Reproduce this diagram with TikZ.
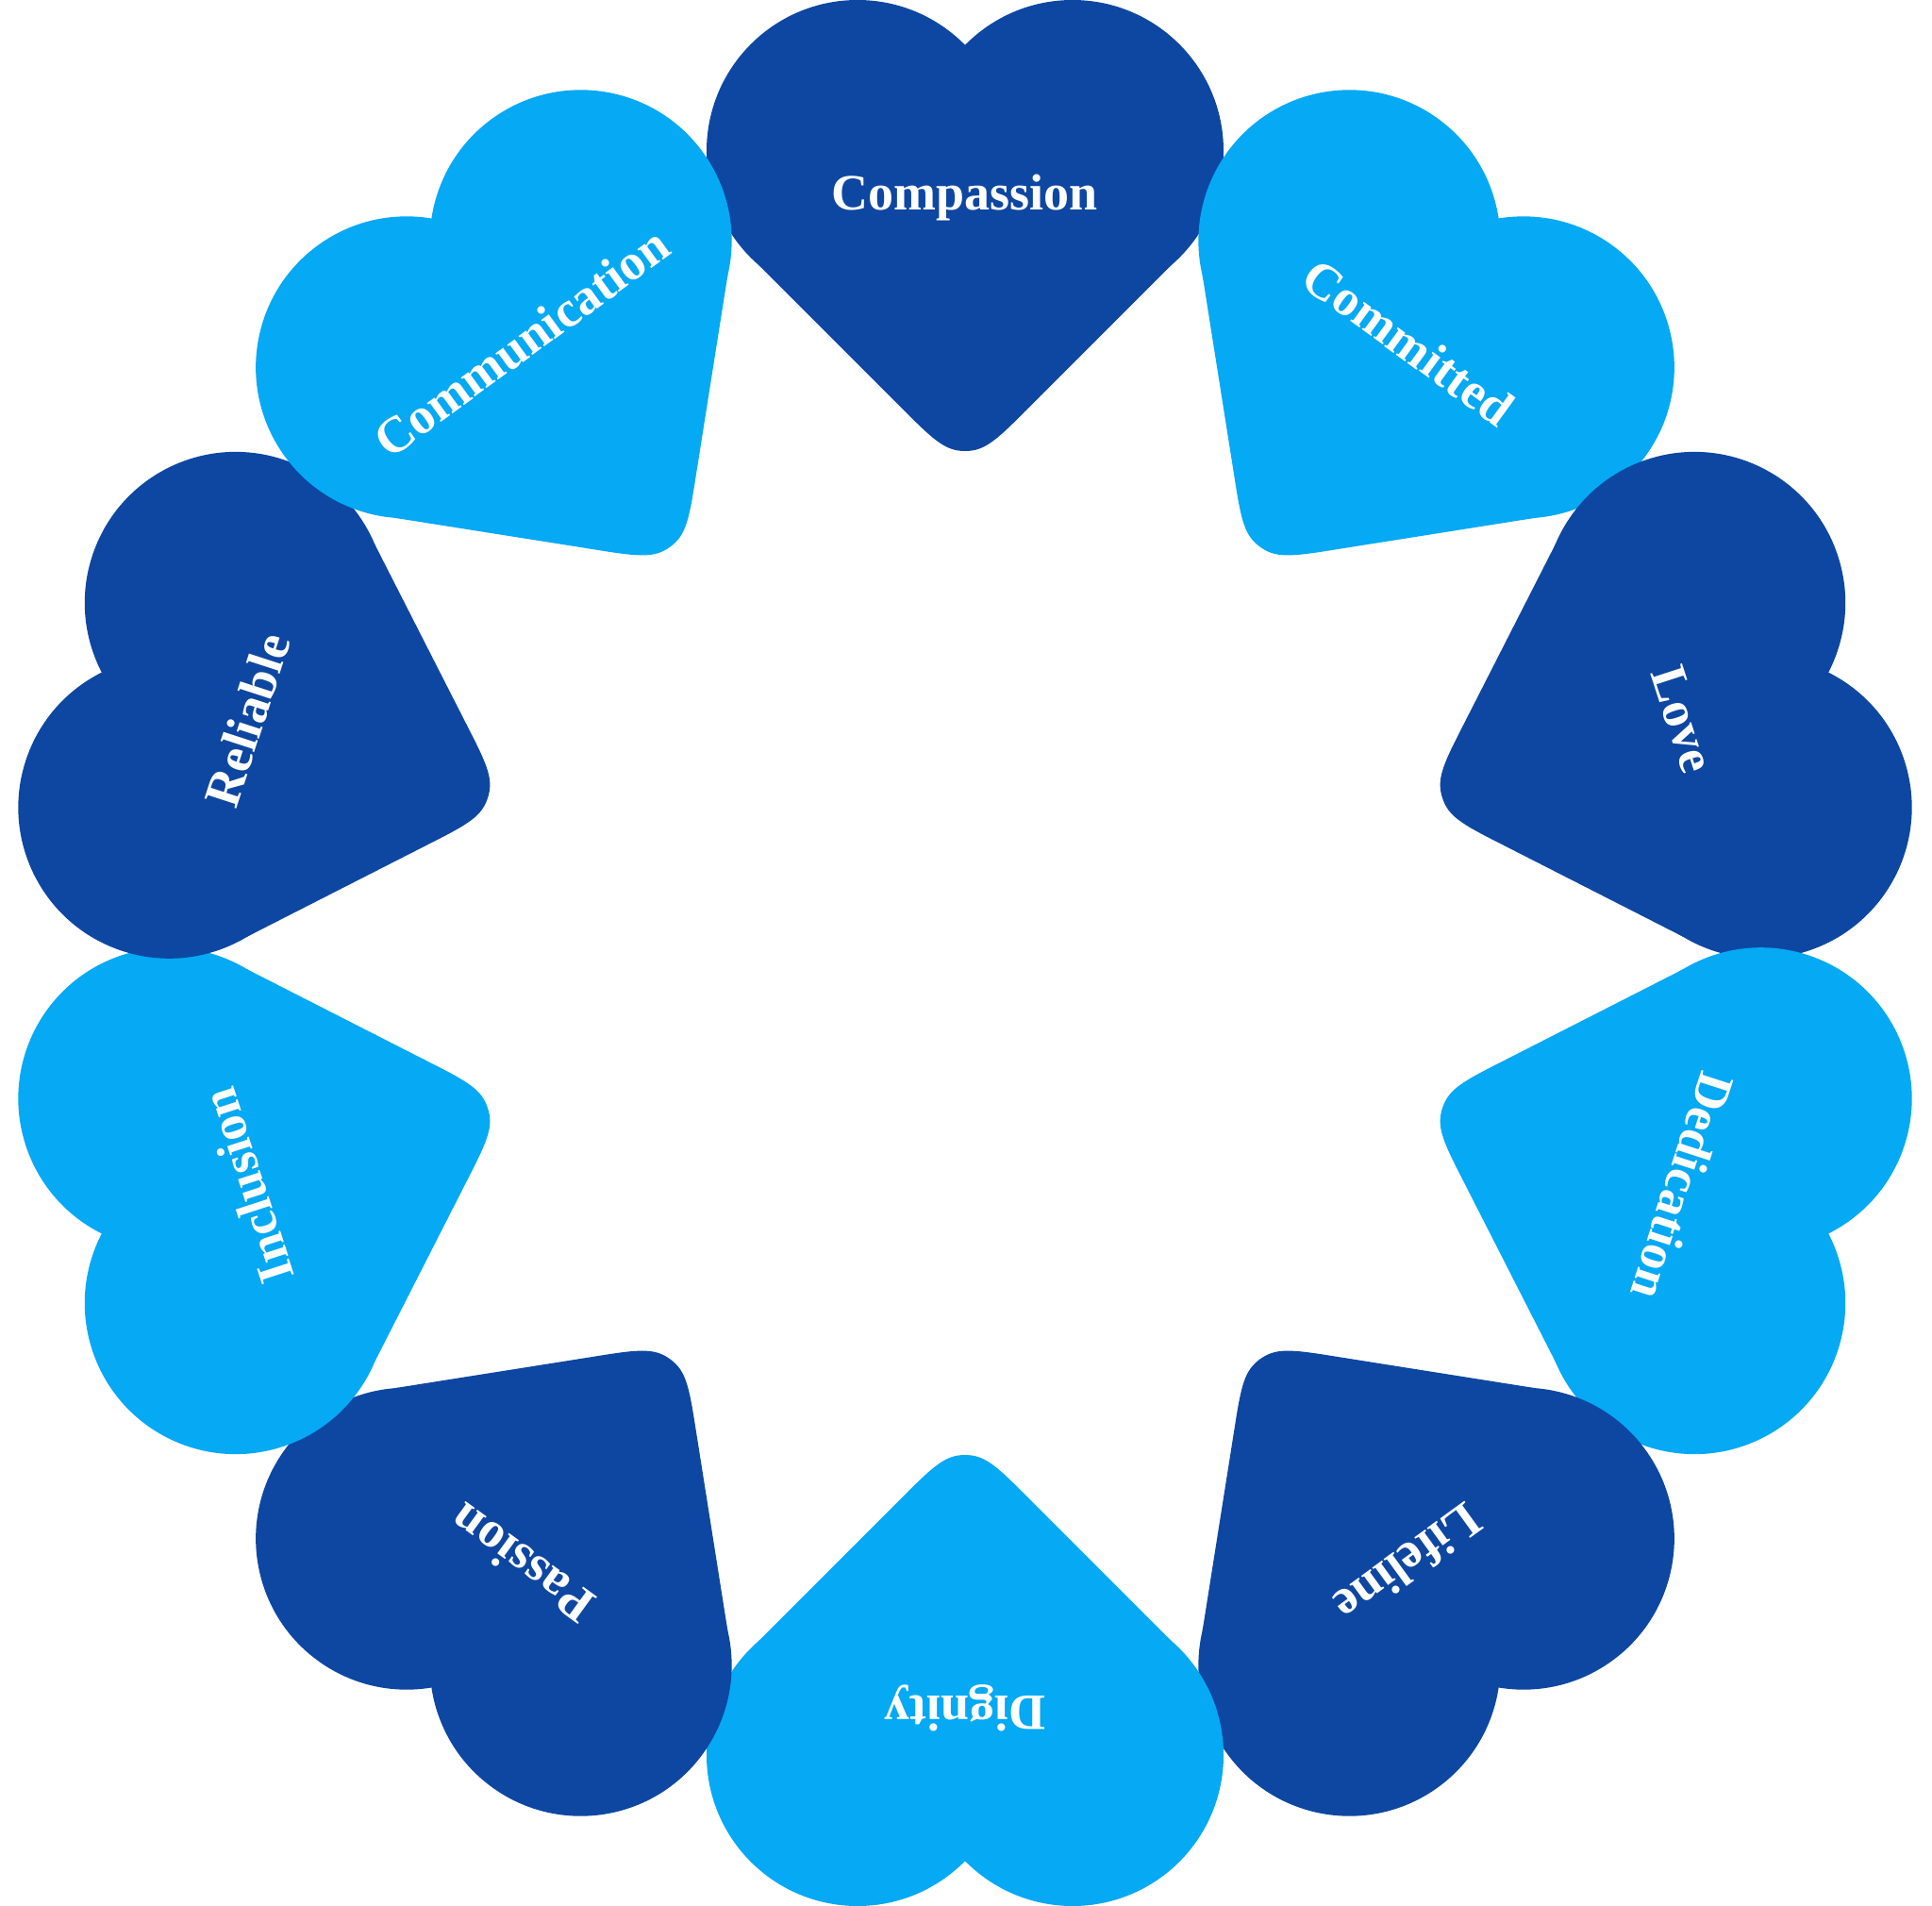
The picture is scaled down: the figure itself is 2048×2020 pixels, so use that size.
\documentclass[tikz,border=0pt]{standalone}
\usepackage{fontspec}
\setmainfont{Liberation Serif}
\definecolor{dk}{HTML}{0E47A1}
\definecolor{lt}{HTML}{05A9F4}
\begin{document}
\begin{tikzpicture}[x=1pt,y=1pt,lbl/.style={text=white,font=\fontsize{54}{54}\selectfont\bfseries}]
\useasboundingbox (0,0) rectangle (2048,-2020);
\foreach \a/\c/\t [count=\i] in {90/dk/Compassion,54/lt/Committed,18/dk/Love,-18/lt/Dedication,-54/dk/Lifeline,-90/lt/Dignity,-126/dk/Passion,-162/lt/Inclusion,162/dk/Reliable,126/lt/Communication}{
\begin{scope}[shift={(1023,-1010)},rotate=\a-90]
\fill[\c] (-114,850) circle (160);
\fill[\c] (114,850) circle (160);
\fill[\c] (-114,850) -- (-218.6,729) -- (-63.6,574) .. controls (-31.8,542) and (-20,532) .. (0,532) .. controls (20,532) and (31.8,542) .. (63.6,574) -- (218.6,729) -- (114,850) -- cycle;
\node[lbl,rotate=\a-90] (h\i) at (0,800) {\t};
\end{scope}}
\end{tikzpicture}
\end{document}
